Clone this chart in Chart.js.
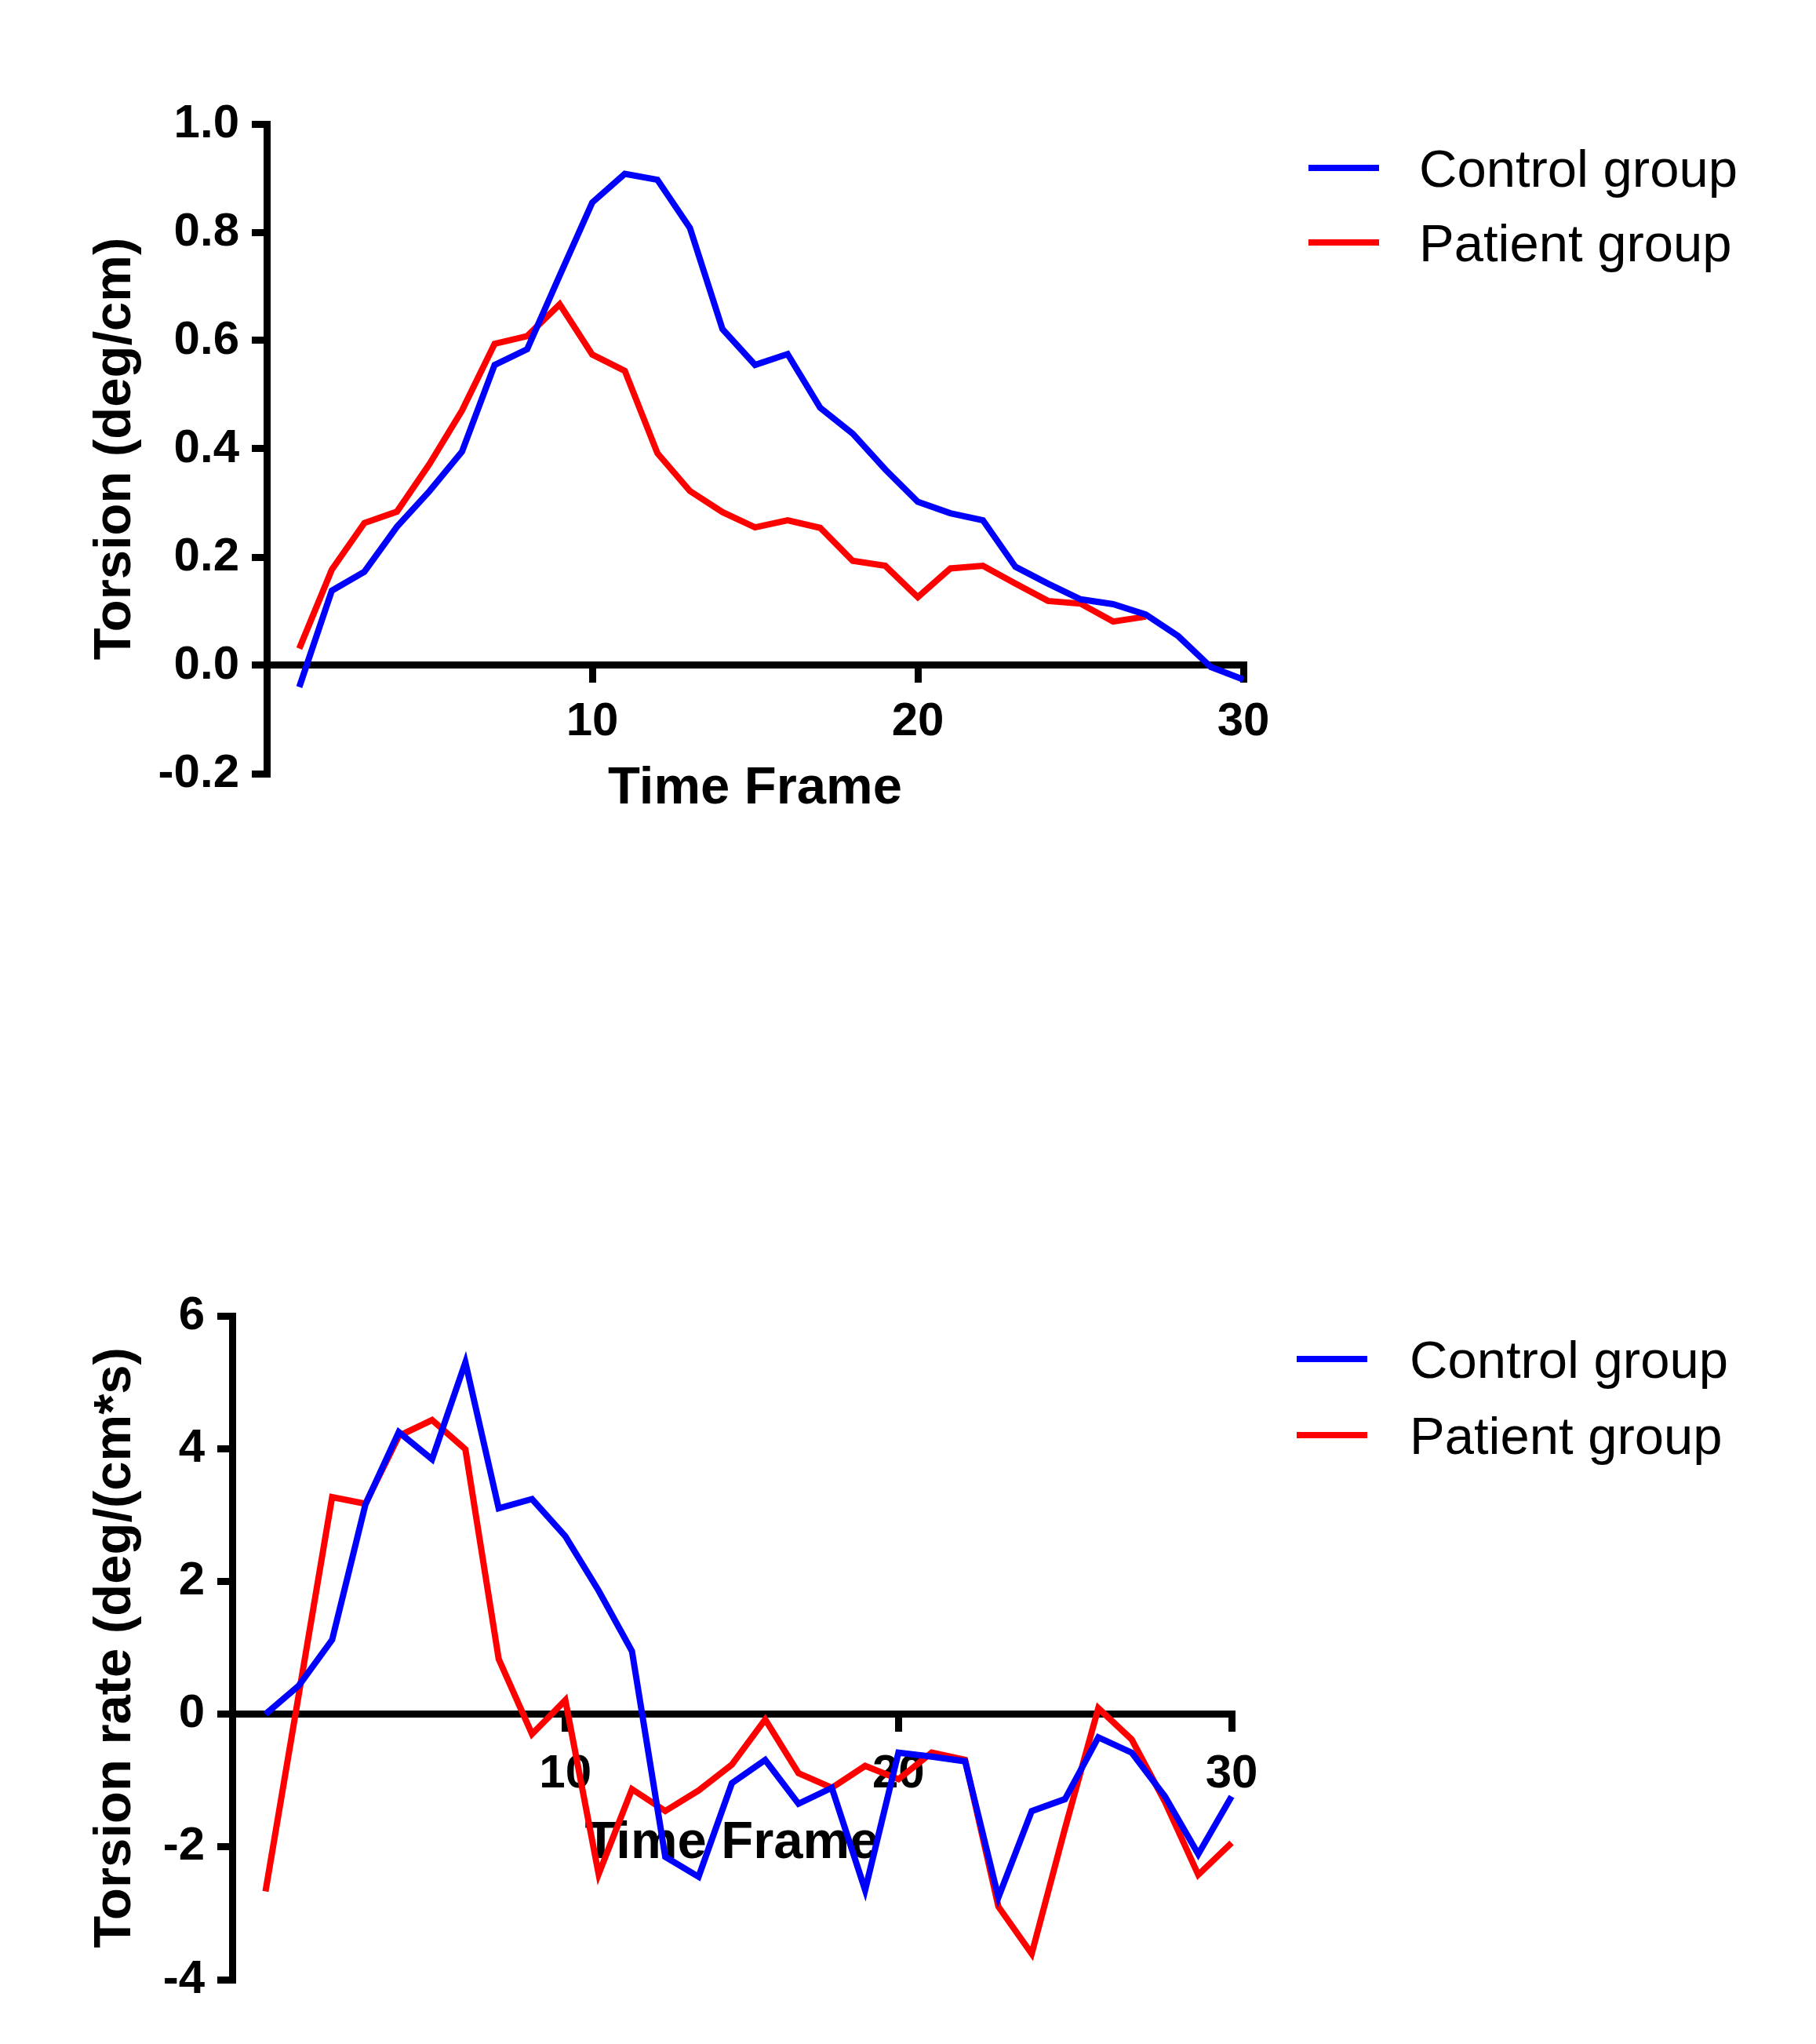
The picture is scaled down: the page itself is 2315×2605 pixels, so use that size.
<!DOCTYPE html>
<html>
<head>
<meta charset="utf-8">
<script src="https://cdn.jsdelivr.net/npm/chart.js@4.4.1/dist/chart.umd.min.js"></script>
<style>
  html, body { margin: 0; padding: 0; background: #fff; overflow: hidden; }
  body { width: 2315px; height: 2605px; position: relative; font-family: "Liberation Sans", Arial, sans-serif; }
  canvas { position: absolute; left: 0; }
  .leg-line { position: absolute; height: 8px; }
  .leg-text { position: absolute; font-size: 67px; line-height: 67px; color: #000; white-space: nowrap; }
</style>
</head>
<body>
<canvas id="torsion-chart" width="1700" height="1046" style="top:0px"></canvas>
<canvas id="rate-chart" width="1700" height="1083" style="top:1500px"></canvas>
<div id="legends"></div>
<script>
// time frames (x axis)
const frames = [1, 2, 3, 4, 5, 6, 7, 8, 9, 10, 11, 12, 13, 14, 15, 16, 17, 18, 19, 20, 21, 22, 23, 24, 25, 26, 27, 28, 29, 30];
const xTicks = [10, 20, 30];

const seriesNames = ['Control group', 'Patient group'];
const seriesColors = ['rgb(0,0,255)', 'rgb(255,0,0)'];

// torsion (deg/cm)
const torsionControl = [-0.040, 0.138, 0.173, 0.256, 0.322, 0.395, 0.555, 0.584, 0.72, 0.855,
  0.908, 0.897, 0.808, 0.621, 0.555, 0.575, 0.476, 0.428, 0.362, 0.302,
  0.281, 0.268, 0.182, 0.151, 0.122, 0.113, 0.094, 0.054, -0.003, -0.026];
const torsionPatient = [0.031, 0.177, 0.263, 0.284, 0.372, 0.471, 0.594, 0.608, 0.667, 0.574,
  0.544, 0.392, 0.322, 0.283, 0.255, 0.268, 0.254, 0.193, 0.184, 0.126,
  0.179, 0.184, 0.151, 0.119, 0.114, 0.081, 0.090];
const torsionTicks = [-0.2, 0, 0.2, 0.4, 0.6, 0.8, 1.0];
const torsionTickLabels = ['-0.2', '0.0', '0.2', '0.4', '0.6', '0.8', '1.0'];

// torsion rate (deg/(cm*s))
const rateControl = [0.0, 0.43, 1.12, 3.16, 4.25, 3.84, 5.30, 3.10, 3.24, 2.68,
  1.86, 0.95, -2.15, -2.45, -1.04, -0.69, -1.35, -1.11, -2.65, -0.58,
  -0.64, -0.71, -2.76, -1.46, -1.28, -0.35, -0.58, -1.24, -2.11, -1.24];
const ratePatient = [-2.67, 0.30, 3.27, 3.17, 4.19, 4.43, 3.99, 0.83, -0.30, 0.21,
  -2.41, -1.13, -1.46, -1.15, -0.76, -0.08, -0.89, -1.11, -0.78, -0.98,
  -0.58, -0.69, -2.90, -3.61, -1.72, 0.09, -0.38, -1.32, -2.42, -1.94];
const rateTicks = [-4, -2, 0, 2, 4, 6];
const rateTickLabels = ['-4', '-2', '0', '2', '4', '6'];

Chart.defaults.font.family = '"Liberation Sans", Arial, sans-serif';
Chart.defaults.color = '#000';

function toPoints(values){
    return values.map((v, i) => ({x: frames[i], y: v}));
}

function makeChart(canvasId, opts){
    const titleFont = {size: 67, weight: 'bold', lineHeight: 1.2};
    const tickFont = {size: 60, weight: 'bold', lineHeight: 1.2};
    return new Chart(document.getElementById(canvasId), {
        type: 'line',
        data: {
            datasets: [
                {label: seriesNames[0], data: toPoints(opts.control), borderColor: seriesColors[0], borderWidth: 8, pointRadius: 0, tension: 0, clip: false},
                {label: seriesNames[1], data: toPoints(opts.patient), borderColor: seriesColors[1], borderWidth: 8, pointRadius: 0, tension: 0, clip: false}
            ]
        },
        options: {
            responsive: false,
            devicePixelRatio: 1,
            animation: false,
            layout: {padding: {left: 0, top: opts.top, right: opts.right, bottom: 60}},
            plugins: {legend: {display: false}, tooltip: {enabled: false}},
            scales: {
                x: {
                    type: 'linear',
                    min: 0,
                    max: 30,
                    position: {y: 0},
                    afterBuildTicks: axis => { axis.ticks = xTicks.map(v => ({value: v})); },
                    afterFit: axis => { axis.height = opts.xHeight; },
                    grid: {drawOnChartArea: false, drawTicks: true, tickLength: 18, color: '#000', lineWidth: 9},
                    border: {display: true, color: '#000', width: 9},
                    ticks: {font: tickFont, padding: opts.xTickPad, maxRotation: 0},
                    title: {display: true, text: 'Time Frame', font: titleFont, padding: {top: 0, bottom: opts.xTitlePad}}
                },
                y: {
                    type: 'linear',
                    min: opts.yTicks[0],
                    max: opts.yTicks[opts.yTicks.length - 1],
                    position: 'left',
                    afterBuildTicks: axis => { axis.ticks = opts.yTicks.map(v => ({value: v})); },
                    afterFit: axis => { axis.width = opts.yWidth; },
                    grid: {drawOnChartArea: false, drawTicks: true, tickLength: 19, color: '#000', lineWidth: 9},
                    border: {display: true, color: '#000', width: 9},
                    ticks: {font: tickFont, padding: 16, callback: (v, i) => opts.yLabels[i]},
                    title: {display: true, text: opts.yTitle, font: titleFont, padding: {top: 107, bottom: 0}}
                }
            }
        }
    });
}

makeChart('torsion-chart', {
    control: torsionControl, patient: torsionPatient,
    yTicks: torsionTicks, yLabels: torsionTickLabels, yTitle: 'Torsion (deg/cm)',
    top: 158, right: 115, yWidth: 340, xHeight: 100,
    xTickPad: 18, xTitlePad: 100 - 40.2 - 158
});

makeChart('rate-chart', {
    control: rateControl, patient: ratePatient,
    yTicks: rateTicks, yLabels: rateTickLabels, yTitle: 'Torsion rate (deg/(cm*s)',
    top: 177, right: 130, yWidth: 296, xHeight: 82,
    xTickPad: 23, xTitlePad: 82 - 40.2 - 165
});

// legends
const legendBoxes = [
    {lineX: 1668, textX: 1809, rows: [214, 309]},
    {lineX: 1653, textX: 1797, rows: [1732, 1829]}
];
const legends = document.getElementById('legends');
for (let box of legendBoxes){
    for (let i = 0; i < seriesNames.length; i++){
        const line = document.createElement('div');
        line.className = 'leg-line';
        line.style.left = box.lineX + 'px';
        line.style.width = '90px';
        line.style.top = (box.rows[i] - 4) + 'px';
        line.style.background = seriesColors[i];
        legends.append(line);
        const txt = document.createElement('div');
        txt.className = 'leg-text';
        txt.style.left = box.textX + 'px';
        txt.style.top = (box.rows[i] - 33) + 'px';
        txt.textContent = seriesNames[i];
        legends.append(txt);
    }
}
</script>
</body>
</html>
